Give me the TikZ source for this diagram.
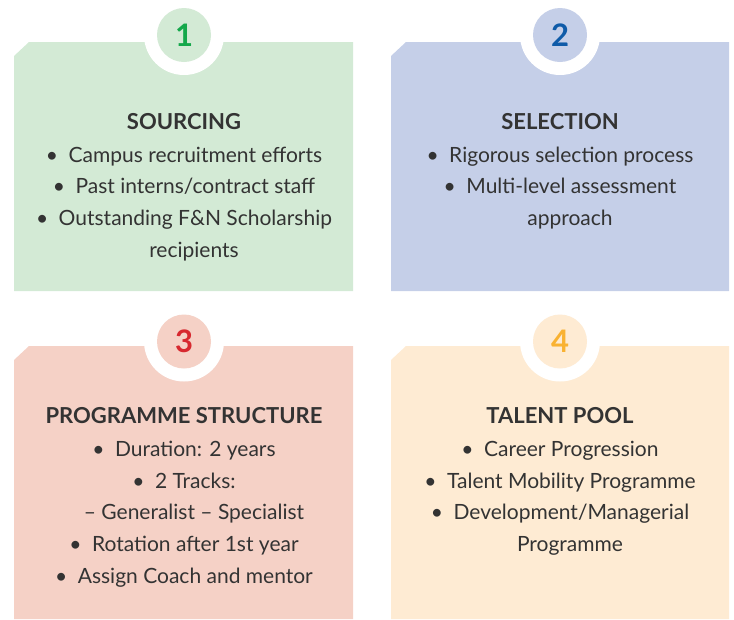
\documentclass[tikz,border=0pt]{standalone}
\usepackage{fontspec}
\setmainfont{Lato}
\definecolor{gbox}{HTML}{D3EAD5}
\definecolor{bbox}{HTML}{C5CFE8}
\definecolor{rbox}{HTML}{F5D1C6}
\definecolor{ybox}{HTML}{FEEBD3}
\definecolor{gnum}{HTML}{14A84B}
\definecolor{bnum}{HTML}{0F5BA8}
\definecolor{rnum}{HTML}{D7282F}
\definecolor{ynum}{HTML}{F9B232}
\definecolor{textc}{HTML}{333333}
\newcommand{\bl}{\textbullet\hspace{0.5em}}
\begin{document}
\begin{tikzpicture}[x=1pt,y=-1pt,
  txt/.style={anchor=base,inner sep=0,text=textc,font=\fontsize{21}{24}\selectfont},
  hd/.style={anchor=base,inner sep=0,text=textc,font=\fontsize{22}{26}\selectfont\bfseries},
  num/.style={circle,minimum size=54pt,inner sep=0,font=\fontsize{31}{32}\selectfont\bfseries},
  ring/.style={circle,fill=white,minimum size=80pt,inner sep=0}]
\useasboundingbox (0,0) rectangle (734,619);
% boxes
\fill[gbox] (14,56) -- (29,42) -- (353,42) -- (353,291) -- (14,291) -- cycle;
\fill[bbox] (391,56) -- (406,42) -- (729,42) -- (729,291) -- (391,291) -- cycle;
\fill[rbox] (14,360) -- (29,346) -- (353,346) -- (353,619) -- (14,619) -- cycle;
\fill[ybox] (391,360) -- (406,346) -- (729,346) -- (729,619) -- (391,619) -- cycle;
% number circles
\node[ring] (r1) at (184,35) {};
\node[num,fill=gbox,text=gnum] (n1) at (184,35) {1};
\node[ring] (r2) at (560,35) {};
\node[num,fill=bbox,text=bnum] (n2) at (560,35) {2};
\node[ring] (r3) at (184,341.5) {};
\node[num,fill=rbox,text=rnum] (n3) at (184,341.5) {3};
\node[ring] (r4) at (560,341.5) {};
\node[num,fill=ybox,text=ynum] (n4) at (560,341.5) {4};
% box 1
\node[hd] (h1) at (184,129) {SOURCING};
\node[txt] (a1) at (184,162) {\bl Campus recruitment efforts};
\node[txt] (a2) at (184,193.7) {\bl Past interns/contract staff};
\node[txt] (a3) at (184,225.4) {\bl Outstanding F\&N Scholarship};
\node[txt] (a4) at (194,257) {recipients};
% box 2
\node[hd] (h2) at (560,129) {SELECTION};
\node[txt] (b1) at (560,162) {\bl Rigorous selection process};
\node[txt] (b2) at (560,193.7) {\bl Multi-level assessment};
\node[txt] (b3) at (570,225.4) {approach};
% box 3
\node[hd] (h3) at (184,423) {PROGRAMME STRUCTURE};
\node[txt] (c1) at (184,456.5) {\bl Duration: 2 years};
\node[txt] (c2) at (184,488.2) {\bl 2 Tracks:};
\node[txt] (c3) at (194,519.9) {– Generalist – Specialist};
\node[txt] (c4) at (184,551.6) {\bl Rotation after 1st year};
\node[txt] (c5) at (184,583.3) {\bl Assign Coach and mentor};
% box 4
\node[hd] (h4) at (560,423) {TALENT POOL};
\node[txt] (d1) at (560,456.5) {\bl Career Progression};
\node[txt] (d2) at (560,488.2) {\bl Talent Mobility Programme};
\node[txt] (d3) at (560,519.9) {\bl Development/Managerial};
\node[txt] (d4) at (570,551.6) {Programme};
\end{tikzpicture}
\end{document}
